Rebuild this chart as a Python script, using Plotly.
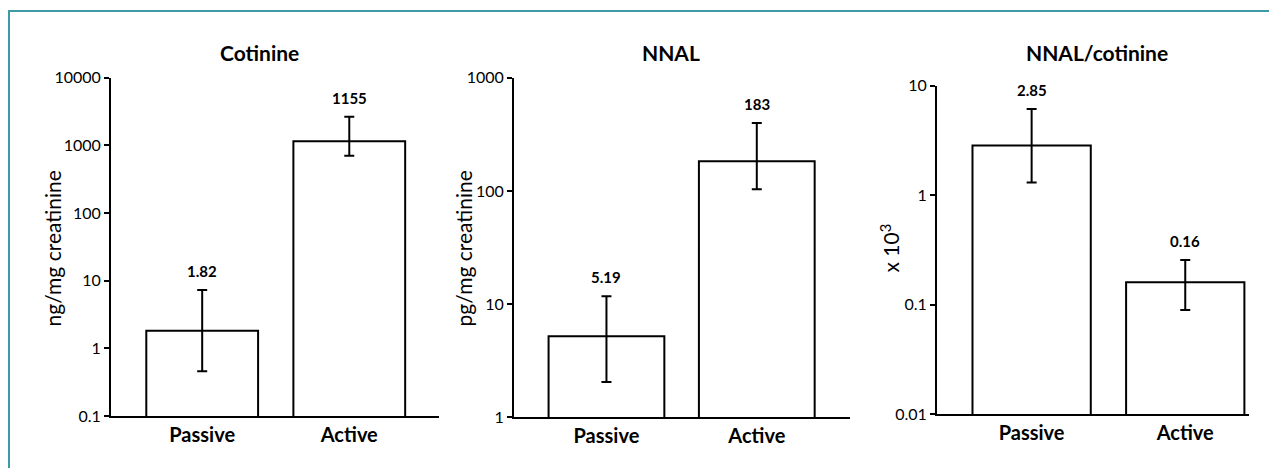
import math
import plotly.graph_objects as go

W, H = 1269, 468
# observed: the drawing area is rendered 450 px tall, starting 9 px from the top
EFF_H, EFF_OFF = 450.0, 9.0


def fy(y_px):
    """paper-y fraction for a target pixel row measured from the top"""
    return 1 - (y_px - EFF_OFF) / EFF_H


categories = ["Passive", "Active"]

panel_titles = ["Cotinine", "NNAL", "NNAL/cotinine"]
y_titles = ["ng/mg creatinine", "pg/mg creatinine", "x 10<sup>3</sup>"]

cotinine_values = [1.82, 1155]
cotinine_err_hi = [7.3, 2670]
cotinine_err_lo = [0.46, 707]
cotinine_labels = ["1.82", "1155"]

nnal_values = [5.19, 183]
nnal_err_hi = [11.7, 398]
nnal_err_lo = [2.04, 103.5]
nnal_labels = ["5.19", "183"]

ratio_values = [2.85, 0.16]
ratio_err_hi = [6.14, 0.256]
ratio_err_lo = [1.31, 0.0894]
ratio_labels = ["2.85", "0.16"]

cotinine_ticks = [0.1, 1, 10, 100, 1000, 10000]
cotinine_ticktext = ["0.1", "1", "10", "100", "1000", "10000"]
nnal_ticks = [1, 10, 100, 1000]
nnal_ticktext = ["1", "10", "100", "1000"]
ratio_ticks = [0.01, 0.1, 1, 10]
ratio_ticktext = ["0.01", "0.1", "1", "10"]

FONT = "Lato"

panels = [
    dict(values=cotinine_values, hi=cotinine_err_hi, lo=cotinine_err_lo, labels=cotinine_labels,
         ticks=cotinine_ticks, ticktext=cotinine_ticktext,
         xdom=(111, 439), ytop=77, ybot=416, xrange=(-0.62, 1.61), width=0.76,
         title_x=259, ytitle_x=52),
    dict(values=nnal_values, hi=nnal_err_hi, lo=nnal_err_lo, labels=nnal_labels,
         ticks=nnal_ticks, ticktext=nnal_ticktext,
         xdom=(514, 850), ytop=77, ybot=417, xrange=(-0.615, 1.62), width=0.77,
         title_x=671, ytitle_x=463),
    dict(values=ratio_values, hi=ratio_err_hi, lo=ratio_err_lo, labels=ratio_labels,
         ticks=ratio_ticks, ticktext=ratio_ticktext,
         xdom=(937, 1249), ytop=85, ybot=414, xrange=(-0.616, 1.415), width=0.77,
         title_x=1097, ytitle_x=890),
]

fig = go.Figure()
annotations = []
layout_axes = {}

for i, p in enumerate(panels):
    n = "" if i == 0 else str(i + 1)
    xa, ya = "x" + n, "y" + n
    vals = p["values"]
    plus = [h - v for h, v in zip(p["hi"], vals)]
    minus = [v - l for l, v in zip(p["lo"], vals)]
    fig.add_trace(go.Bar(
        x=categories, y=vals, xaxis=xa, yaxis=ya, width=p["width"],
        marker=dict(color="white", line=dict(color="black", width=2)),
        error_y=dict(type="data", symmetric=False, array=plus, arrayminus=minus,
                     color="black", thickness=2, width=5),
        showlegend=False, hoverinfo="skip",
    ))
    lo_t, hi_t = p["ticks"][0], p["ticks"][-1]
    layout_axes["xaxis" + n] = dict(
        domain=[p["xdom"][0] / W, p["xdom"][1] / W], anchor=ya,
        range=list(p["xrange"]), showline=True, linecolor="black", linewidth=2,
        ticks="", showgrid=False, zeroline=False,
        tickfont=dict(family=FONT, size=20, color="black", weight="bold"),
        fixedrange=True,
    )
    layout_axes["yaxis" + n] = dict(
        domain=[fy(p["ybot"]), fy(p["ytop"])], anchor=xa,
        type="log", range=[math.log10(lo_t), math.log10(hi_t)],
        tickvals=p["ticks"], ticktext=p["ticktext"],
        showline=True, linecolor="black", linewidth=2,
        ticks="outside", ticklen=5, tickwidth=1.5, tickcolor="black",
        showgrid=False, zeroline=False,
        tickfont=dict(family=FONT, size=16, color="black"),
        fixedrange=True,
    )
    for c, h, lab in zip(categories, p["hi"], p["labels"]):
        annotations.append(dict(
            x=c, y=math.log10(h), xref=xa, yref=ya, text=lab, showarrow=False,
            yanchor="bottom", yshift=8,
            font=dict(family=FONT, size=15, color="black", weight="bold"),
        ))
    annotations.append(dict(
        x=p["title_x"] / W, y=fy(52), xref="paper", yref="paper",
        text=panel_titles[i], showarrow=False, xanchor="center", yanchor="middle",
        font=dict(family=FONT, size=21, color="black", weight="bold"),
    ))
    annotations.append(dict(
        x=p["ytitle_x"] / W, y=fy(248), xref="paper", yref="paper",
        text=y_titles[i], showarrow=False, textangle=-90,
        xanchor="center", yanchor="middle",
        font=dict(family=FONT, size=21, color="black"),
    ))

fig.update_layout(
    width=W, height=H,
    margin=dict(l=0, r=0, t=0, b=0),
    paper_bgcolor="white", plot_bgcolor="white",
    annotations=annotations,
    shapes=[dict(type="rect", xref="paper", yref="paper",
                 x0=9 / W, x1=1.05, y0=-0.2, y1=fy(10),
                 line=dict(color="#3f9aa6", width=2), fillcolor="rgba(0,0,0,0)", layer="below")],
    **layout_axes,
)

fig.write_html(
    "out.html",
    config={"displayModeBar": False},
    post_script=(
        "document.documentElement.style.margin='0';"
        "document.body.style.margin='0';"
        "document.body.style.overflow='hidden';"
        "var gd=document.getElementById('{plot_id}');"
        "gd.style.position='fixed';gd.style.top='0px';gd.style.left='0px';"
    ),
)
